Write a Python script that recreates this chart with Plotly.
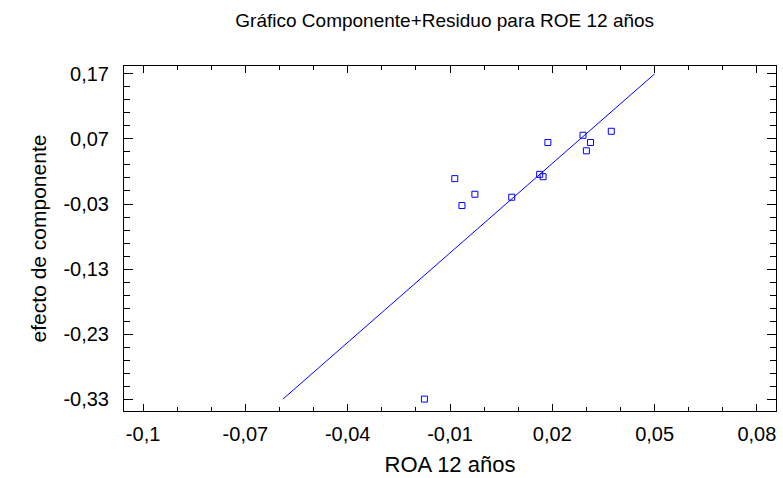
import plotly.graph_objects as go

# Data
roa = [-0.0175, -0.0086, -0.0065, -0.0027, 0.0081, 0.0163, 0.0173, 0.0187, 0.0290, 0.0300, 0.0312, 0.0373]
efecto = [-0.330, 0.009, -0.0323, -0.015, -0.0196, 0.0156, 0.0120, 0.0645, 0.0757, 0.0518, 0.0645, 0.0818]

fit_x = [-0.0590, 0.0500]
fit_y = [-0.330, 0.170]

x_tickvals = [-0.1, -0.07, -0.04, -0.01, 0.02, 0.05, 0.08]
x_ticktext = ["-0,1", "-0,07", "-0,04", "-0,01", "0,02", "0,05", "0,08"]
y_tickvals = [0.17, 0.07, -0.03, -0.13, -0.23, -0.33]
y_ticktext = ["0,17", "0,07", "-0,03", "-0,13", "-0,23", "-0,33"]

BLUE = "#0000FF"
FONT = "Liberation Sans, Arial, sans-serif"

fig = go.Figure()
fig.add_trace(go.Scatter(x=fit_x, y=fit_y, mode="lines",
                         line=dict(color=BLUE, width=1), hoverinfo="skip"))
fig.add_trace(go.Scatter(x=roa, y=efecto, mode="markers",
                         marker=dict(symbol="square-open", size=6, color=BLUE,
                                     line=dict(width=1, color=BLUE))))

fig.update_layout(
    width=783, height=478,
    margin=dict(l=124, r=6, t=66, b=65),
    paper_bgcolor="white", plot_bgcolor="white",
    showlegend=False,
    font=dict(family=FONT, size=20, color="black"),
    title=dict(text="Gráfico Componente+Residuo para ROE 12 años",
               x=0.568, xanchor="center", y=0.958, yanchor="middle",
               font=dict(family=FONT, size=19, color="black")),
)
fig.update_xaxes(
    range=[-0.1056, 0.0856], showgrid=False, zeroline=False,
    showline=True, linecolor="black", linewidth=1, mirror="ticks",
    ticks="inside", ticklen=7, tickcolor="black", tickwidth=1,
    tickmode="array", tickvals=x_tickvals, ticktext=x_ticktext,
    ticklabelstandoff=5,
    tickfont=dict(family=FONT, size=20, color="black"),
    minor=dict(tickmode="linear", tick0=-0.1, dtick=0.01, ticklen=4,
               ticks="inside", tickcolor="black", showgrid=False),
    title=dict(text="ROA 12 años", standoff=12,
               font=dict(family=FONT, size=22, color="black")),
)
fig.update_yaxes(
    range=[-0.3483, 0.1822], showgrid=False, zeroline=False,
    showline=True, linecolor="black", linewidth=1, mirror="ticks",
    ticks="inside", ticklen=9, tickcolor="black", tickwidth=1,
    tickmode="array", tickvals=y_tickvals, ticktext=y_ticktext,
    ticklabelstandoff=10,
    tickfont=dict(family=FONT, size=20, color="black"),
    minor=dict(tickmode="linear", tick0=0.17, dtick=0.02, ticklen=6,
               ticks="inside", tickcolor="black", showgrid=False),
    title=dict(text="efecto de componente", standoff=11,
               font=dict(family=FONT, size=21, color="black")),
)

fig.write_html("out.html")
